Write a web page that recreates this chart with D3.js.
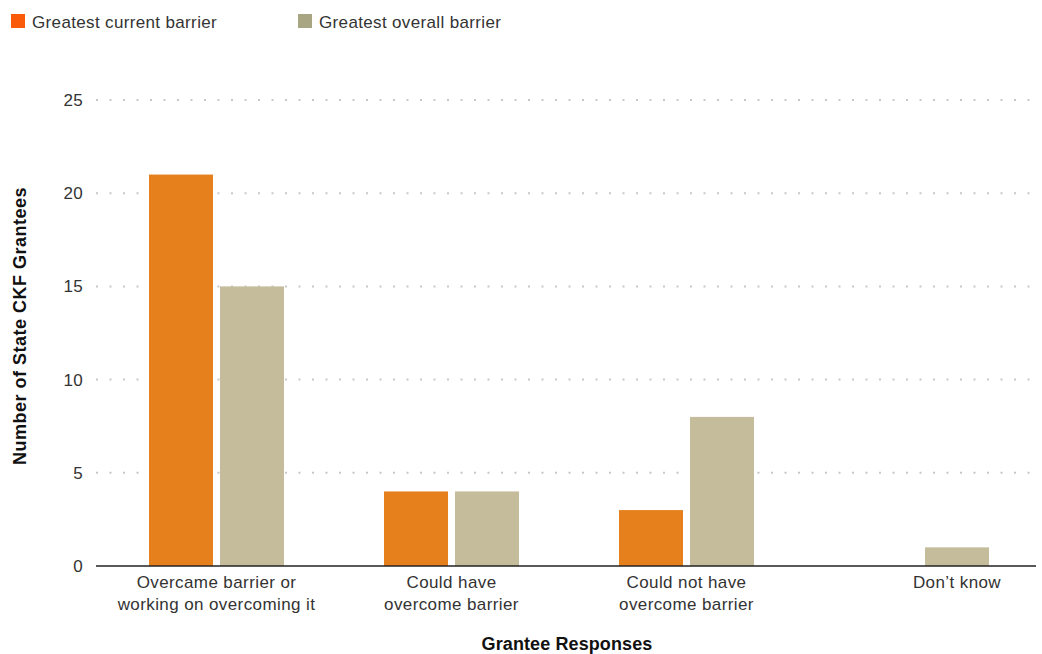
<!DOCTYPE html>
<html>
<head>
<meta charset="utf-8">
<script src="https://cdnjs.cloudflare.com/ajax/libs/d3/7.8.5/d3.min.js"></script>
<style>
  body { margin: 0; background: #fff; }
  text { font-family: "Liberation Sans", Arial, sans-serif; fill: #333; }
</style>
</head>
<body>
<div id="vis"></div>
<script>
// chart data
var categories = [
  ['Overcame barrier or', 'working on overcoming it'],
  ['Could have', 'overcome barrier'],
  ['Could not have', 'overcome barrier'],
  ['Don\u2019t know']
];
var seriesNames = ['Greatest current barrier', 'Greatest overall barrier'];
var currentValues = [21, 4, 3, 0];
var overallValues = [15, 4, 8, 1];
var yTicks = [0, 5, 10, 15, 20, 25];

var width = 1042, height = 654;
var margin = { top: 100, left: 96, bottom: 88, right: 6 };
var barColors = ['#e5801c', '#c4bc9b'];
var legendColors = ['#fa5b0b', '#a8a682'];

var svg = d3.select('#vis').append('svg')
  .attr('width', width)
  .attr('height', height);

var x0 = d3.scaleBand()
  .domain(d3.range(categories.length))
  .range([margin.left + 3, width - margin.right + 3])
  .paddingInner(0)
  .paddingOuter(0);

var x1 = d3.scaleBand()
  .domain([0, 1])
  .range([50, 185])
  .paddingInner(7 / 71);

var y = d3.scaleLinear()
  .domain([0, 25])
  .range([height - margin.bottom, margin.top]);

// gridlines
svg.append('g')
  .selectAll('line')
  .data(yTicks.slice(1))
  .join('line')
  .attr('x1', margin.left)
  .attr('x2', width - margin.right)
  .attr('y1', function(d) { return y(d); })
  .attr('y2', function(d) { return y(d); })
  .attr('stroke', '#c8c8c8')
  .attr('stroke-width', 2)
  .attr('stroke-dasharray', '2,11.5');

// y tick labels
svg.append('g')
  .selectAll('text')
  .data(yTicks)
  .join('text')
  .attr('x', 83)
  .attr('y', function(d) { return y(d); })
  .attr('dy', '0.35em')
  .attr('text-anchor', 'end')
  .style('font-size', '17px')
  .style('letter-spacing', '0.3px')
  .text(function(d) { return d; });

// bars
var rows = categories.map(function(c, i) {
  return [currentValues[i], overallValues[i]];
});

var groups = svg.append('g')
  .selectAll('g')
  .data(rows)
  .join('g')
  .attr('transform', function(d, i) { return 'translate(' + x0(i) + ',0)'; });

groups.selectAll('rect')
  .data(function(d) { return d; })
  .join('rect')
  .attr('x', function(d, j) { return x1(j); })
  .attr('width', x1.bandwidth())
  .attr('y', function(d) { return y(d); })
  .attr('height', function(d) { return y(0) - y(d); })
  .attr('fill', function(d, j) { return barColors[j]; });

// x axis line
svg.append('line')
  .attr('x1', margin.left)
  .attr('x2', width - margin.right)
  .attr('y1', y(0))
  .attr('y2', y(0))
  .attr('stroke', '#222')
  .attr('stroke-width', 1.5);

// category labels: centred on the group, or on the only non-zero bar
function labelX(i) {
  if (currentValues[i] === 0) {
    return x0(i) + x1(1) + x1.bandwidth() / 2;
  }
  return x0(i) + x0.bandwidth() / 2;
}

var catLabels = svg.append('g')
  .selectAll('text')
  .data(categories)
  .join('text')
  .attr('x', function(d, i) { return labelX(i); })
  .attr('y', y(0) + 22)
  .attr('text-anchor', 'middle')
  .style('font-size', '17px')
  .style('letter-spacing', '0.4px');

catLabels.selectAll('tspan')
  .data(function(d) { return d; })
  .join('tspan')
  .attr('x', function() { return d3.select(this.parentNode).attr('x'); })
  .attr('dy', function(d, k) { return k === 0 ? 0 : 22; })
  .text(function(d) { return d; });

// axis titles
svg.append('text')
  .attr('x', 567)
  .attr('y', 650)
  .attr('text-anchor', 'middle')
  .style('font-size', '18px')
  .style('font-weight', 'bold')
  .style('letter-spacing', '0.1px')
  .style('fill', '#111')
  .text('Grantee Responses');

svg.append('text')
  .attr('transform', 'translate(26,' + 326 + ') rotate(-90)')
  .attr('text-anchor', 'middle')
  .style('font-size', '18px')
  .style('font-weight', 'bold')
  .style('letter-spacing', '0.5px')
  .style('fill', '#111')
  .text('Number of State CKF Grantees');

// legend
var legendX = [11, 298];
var legend = svg.append('g')
  .selectAll('g')
  .data(seriesNames)
  .join('g')
  .attr('transform', function(d, i) { return 'translate(' + legendX[i] + ',14)'; });

legend.append('rect')
  .attr('width', 14)
  .attr('height', 14)
  .attr('fill', function(d, i) { return legendColors[i]; });

legend.append('text')
  .attr('x', 21)
  .attr('y', 8)
  .attr('dy', '0.35em')
  .style('font-size', '17px')
  .style('letter-spacing', '0.35px')
  .text(function(d) { return d; });
</script>
</body>
</html>
